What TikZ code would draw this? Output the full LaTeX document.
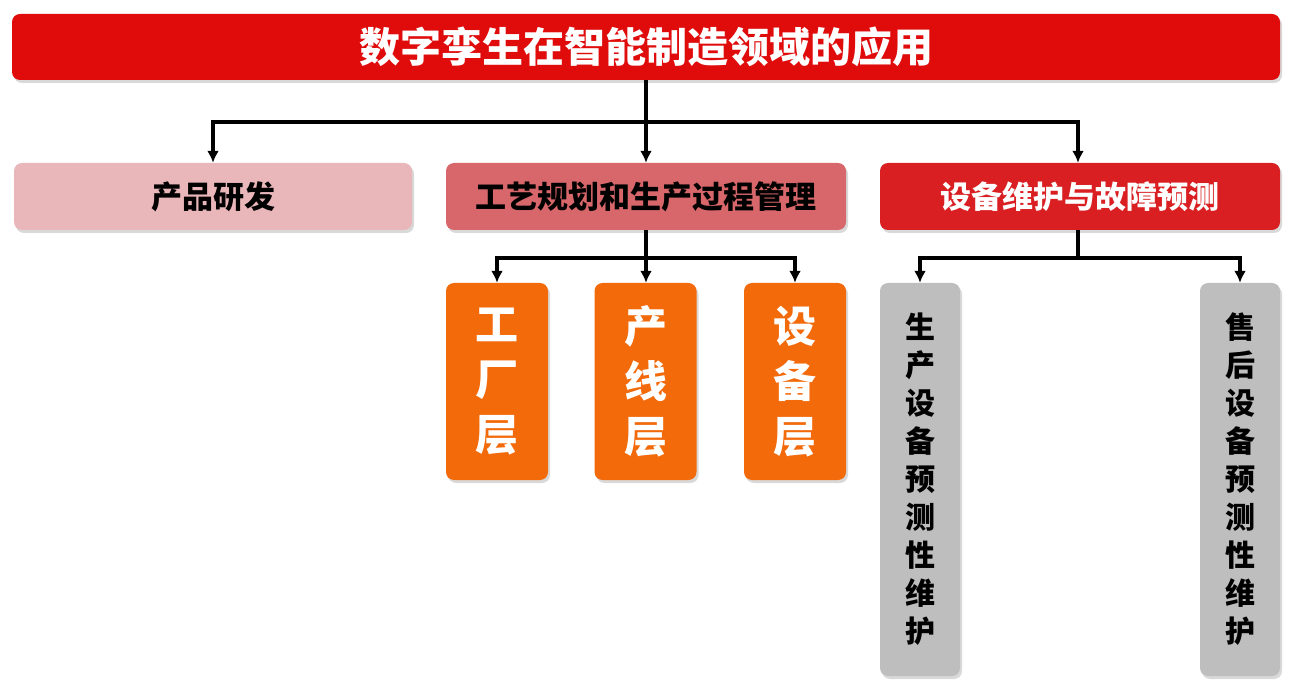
\documentclass[tikz,border=0pt]{standalone}
\usepackage{fontspec}
\setmainfont{Noto Sans CJK SC}
\usetikzlibrary{positioning,shadows,arrows.meta}
\definecolor{topred}{HTML}{E00B0B}
\definecolor{pinkbox}{HTML}{E9B6BA}
\definecolor{midred}{HTML}{D7676A}
\definecolor{rightred}{HTML}{D91F22}
\definecolor{orangebox}{HTML}{F36A0B}
\definecolor{graybox}{HTML}{BEBEBE}
\tikzset{
  box/.style={rounded corners=8pt,minimum height=67pt,font=\bfseries\fontsize{31}{36}\selectfont,drop shadow={opacity=0.3,shadow xshift=2pt,shadow yshift=-3pt}},
  tallbox/.style={box,minimum width=102pt,minimum height=197pt,fill=orangebox,text=white,align=center,font=\bfseries\fontsize{43}{55}\selectfont},
  graycol/.style={box,minimum width=80pt,minimum height=393pt,fill=graybox,align=center,font=\bfseries\fontsize{30}{38}\selectfont},
  link/.style={line width=3.2pt,-{Latex[length=12pt,width=12pt]}},
  bar/.style={line width=3.2pt}
}
\begin{document}
\begin{tikzpicture}[x=1pt,y=-1pt]
\useasboundingbox (0,0) rectangle (1304,692);
%顶部标题
\node[box,fill=topred,text=white,minimum width=1268pt,minimum height=66pt,font=\bfseries\fontsize{41}{46}\selectfont] (top) at (646,47) {数字孪生在智能制造领域的应用};
%第二层
\node[box,fill=pinkbox,minimum width=398pt] (rd) at (213,196.5) {产品研发};
\node[box,fill=midred,minimum width=400pt] (proc) at (646,196.5) {工艺规划和生产过程管理};
\node[box,fill=rightred,text=white,minimum width=400pt] (maint) at (1080,196.5) {设备维护与故障预测};
%第三层
\node[tallbox] (fac) at (497,381.5) {工\\厂\\层};
\node[tallbox] (line) at (645.5,381.5) {产\\线\\层};
\node[tallbox] (dev) at (795,381.5) {设\\备\\层};
\node[graycol] (prod) at (920,479.5) {生\\产\\设\\备\\预\\测\\性\\维\\护};
\node[graycol] (after) at (1240,479.5) {售\\后\\设\\备\\预\\测\\性\\维\\护};
%连线
\coordinate (j1) at (646,122);
\draw[bar] (top.south) -- (j1);
\draw[link] (j1) -| (rd.north);
\draw[link] (j1) -- (proc.north);
\draw[link] (j1) -| (maint.north -| 1078,0);
\coordinate (j2) at (646,258);
\draw[bar] (proc.south) -- (j2);
\draw[link] (j2) -| (fac.north);
\draw[link] (j2) -- (line.north -| j2);
\draw[link] (j2) -| (dev.north);
\coordinate (j3) at (1078,258);
\draw[bar] (maint.south -| j3) -- (j3);
\draw[link] (j3) -| (prod.north);
\draw[link] (j3) -| (after.north);
\end{tikzpicture}
\end{document}
